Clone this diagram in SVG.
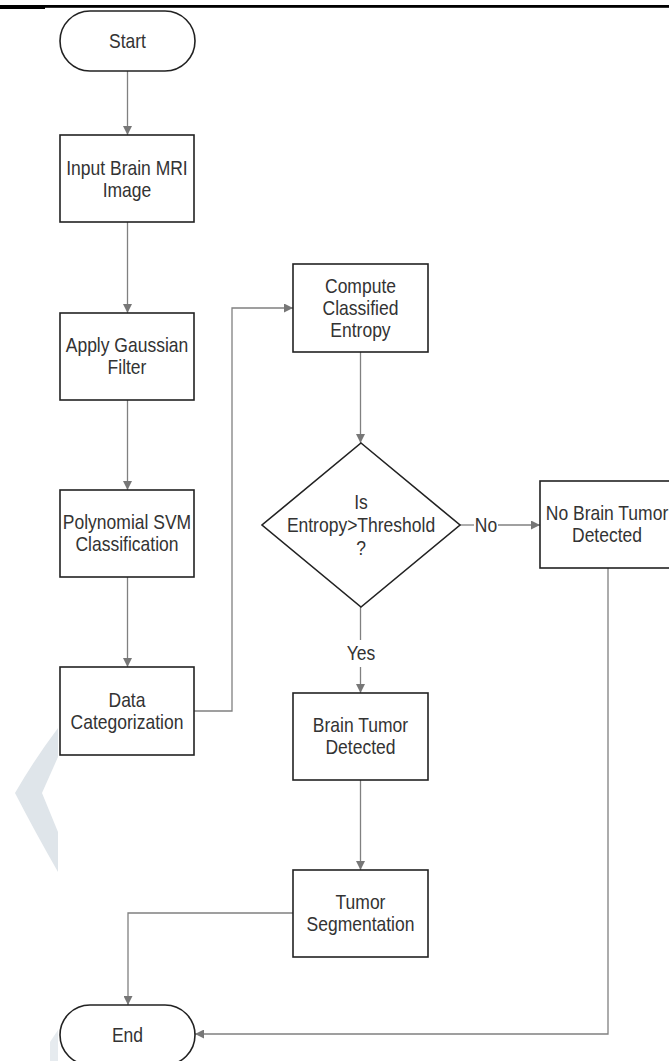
<svg xmlns="http://www.w3.org/2000/svg" width="669" height="1061" viewBox="0 0 669 1061">
<defs>
<marker id="ah" viewBox="0 0 10 10" refX="10" refY="5" markerWidth="9" markerHeight="9" markerUnits="userSpaceOnUse" orient="auto">
<path d="M0,0 L10,5 L0,10 z" fill="#777"/>
</marker>
<style>
.n{fill:#fff;stroke:#222;stroke-width:1.6}
.t{font-family:"Liberation Sans",Arial,sans-serif;font-size:17.5px;fill:#333;text-anchor:middle;transform-box:fill-box;transform-origin:center;transform:scaleY(1.13)}
.c{fill:none;stroke:#808080;stroke-width:1.3}
.a{marker-end:url(#ah)}
</style>
</defs>
<rect width="669" height="1061" fill="#fff"/>
<rect x="0" y="5" width="669" height="2.8" fill="#000"/>
<rect x="0" y="5" width="45" height="4" fill="#000"/>
<path d="M58,728 Q34,760 15,793 Q34,830 58,872 L58,832 L42,793 L58,757 Z" fill="#dfe5ea"/>
<path d="M50,1042 L58,1030 L58,1061 L50,1061 Z" fill="#e6ebef"/>
<g id="connectors">
<path class="c a" d="M127.5,71 V135"/>
<path class="c a" d="M127.5,222 V313"/>
<path class="c a" d="M127.5,400 V490"/>
<path class="c a" d="M127.5,577 V667"/>
<path class="c a" d="M194,711 H232 V308 H293"/>
<path class="c a" d="M360.5,352 V443"/>
<path class="c" d="M460,525 H474"/>
<path class="c a" d="M498,525 H540"/>
<path class="c" d="M360.5,607 V640"/>
<path class="c a" d="M360.5,667 V693"/>
<path class="c a" d="M360.5,780 V870"/>
<path class="c a" d="M293,913 H128 V1005"/>
<path class="c a" d="M608,568 V1034 H195"/>
<text class="t" x="486" y="531">No</text>
<text class="t" x="361" y="659">Yes</text>
</g>
<g id="start">
<rect class="n" x="60" y="11" width="135" height="60" rx="30"/>
<text class="t" x="127.5" y="47">Start</text>
</g>
<g id="input">
<rect class="n" x="60" y="135" width="134" height="87"/>
<text class="t" x="127" y="174">Input Brain MRI</text>
<text class="t" x="127" y="196">Image</text>
</g>
<g id="gaussian">
<rect class="n" x="60" y="313" width="134" height="87"/>
<text class="t" x="127" y="351.5">Apply Gaussian</text>
<text class="t" x="127" y="373.5">Filter</text>
</g>
<g id="svm">
<rect class="n" x="60" y="490" width="134" height="87"/>
<text class="t" x="127" y="528.5">Polynomial SVM</text>
<text class="t" x="127" y="550.5">Classification</text>
</g>
<g id="data">
<rect class="n" x="60" y="667" width="134" height="88"/>
<text class="t" x="127" y="706">Data</text>
<text class="t" x="127" y="728">Categorization</text>
</g>
<g id="compute">
<rect class="n" x="293" y="264" width="135" height="88"/>
<text class="t" x="360.5" y="292">Compute</text>
<text class="t" x="360.5" y="314">Classified</text>
<text class="t" x="360.5" y="336">Entropy</text>
</g>
<g id="decision">
<polygon class="n" points="361,443 460,525 361,607 262,525"/>
<text class="t" x="361" y="508">Is</text>
<text class="t" x="361" y="531">Entropy&gt;Threshold</text>
<text class="t" x="361" y="554">?</text>
</g>
<g id="nobrain">
<rect class="n" x="540" y="481" width="134" height="87"/>
<text class="t" x="607" y="519.5">No Brain Tumor</text>
<text class="t" x="607" y="541.5">Detected</text>
</g>
<g id="tumor">
<rect class="n" x="293" y="693" width="135" height="87"/>
<text class="t" x="360.5" y="731.5">Brain Tumor</text>
<text class="t" x="360.5" y="753.5">Detected</text>
</g>
<g id="segmentation">
<rect class="n" x="293" y="870" width="135" height="87"/>
<text class="t" x="360.5" y="908.5">Tumor</text>
<text class="t" x="360.5" y="930.5">Segmentation</text>
</g>
<g id="end">
<rect class="n" x="60" y="1005" width="135" height="60" rx="30"/>
<text class="t" x="127.5" y="1041">End</text>
</g>
</svg>
